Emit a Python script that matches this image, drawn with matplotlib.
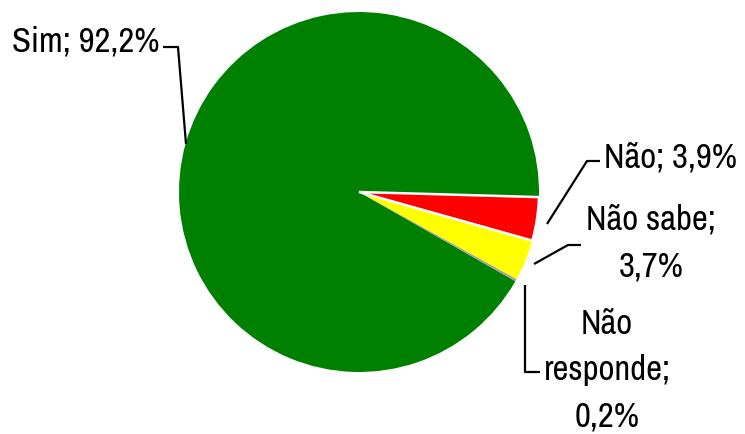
import matplotlib
matplotlib.use("Agg")
import matplotlib.pyplot as plt

categories = ["Sim", "Não", "Não sabe", "Não responde"]
values = [92.2, 3.9, 3.7, 0.2]
label_texts = ["Sim; 92,2%", "Não; 3,9%", "Não sabe;\n3,7%", "Não\nresponde;\n0,2%"]
colors = ["#008000", "#FF0000", "#FFFF00", "#A0A0A0"]

W, H = 745, 435
fig = plt.figure(figsize=(W / 100, H / 100), dpi=100)
ax = fig.add_axes([0, 0, 1, 1])
ax.axis("off")

def Y(yp):
    return H - yp

cx, cy, r = 359, 193, 180
wedges, _ = ax.pie(values, colors=colors, center=(cx, Y(cy)), radius=r,
                   startangle=330.3, counterclock=False,
                   explode=[0, 0.035, 0, 0],
                   wedgeprops=dict(linewidth=0))
# the exploded slice carries a white border
wedges[1].set_edgecolor("white")
wedges[1].set_linewidth(1.8)
wedges[1].set_zorder(3)
ax.set_xlim(0, W)
ax.set_ylim(0, H)
ax.set_aspect("equal")

font = dict(family=["Archivo Narrow", "Roboto Condensed", "DejaVu Sans"],
            fontsize=25, color="black")

# labels
ax.text(12, Y(42), label_texts[0], ha="left", va="center", **font)
ax.text(604, Y(158), label_texts[1], ha="left", va="center", **font)
ax.text(651, Y(243), label_texts[2], ha="center", va="center", linespacing=1.55, **font)
ax.text(607, Y(370), label_texts[3], ha="center", va="center", linespacing=1.55, **font)

# leader lines
lk = dict(color="black", linewidth=1.6, solid_capstyle="butt")
ax.plot([163, 178, 186], [Y(48), Y(48), Y(145)], **lk)
ax.plot([600, 587, 547], [Y(162), Y(162), Y(225)], **lk)
ax.plot([581, 568, 534], [Y(246), Y(246), Y(265)], **lk)
ax.plot([525, 525, 540], [Y(286), Y(373), Y(373)], **lk)

fig.savefig("out.png", dpi=100, facecolor="white")
